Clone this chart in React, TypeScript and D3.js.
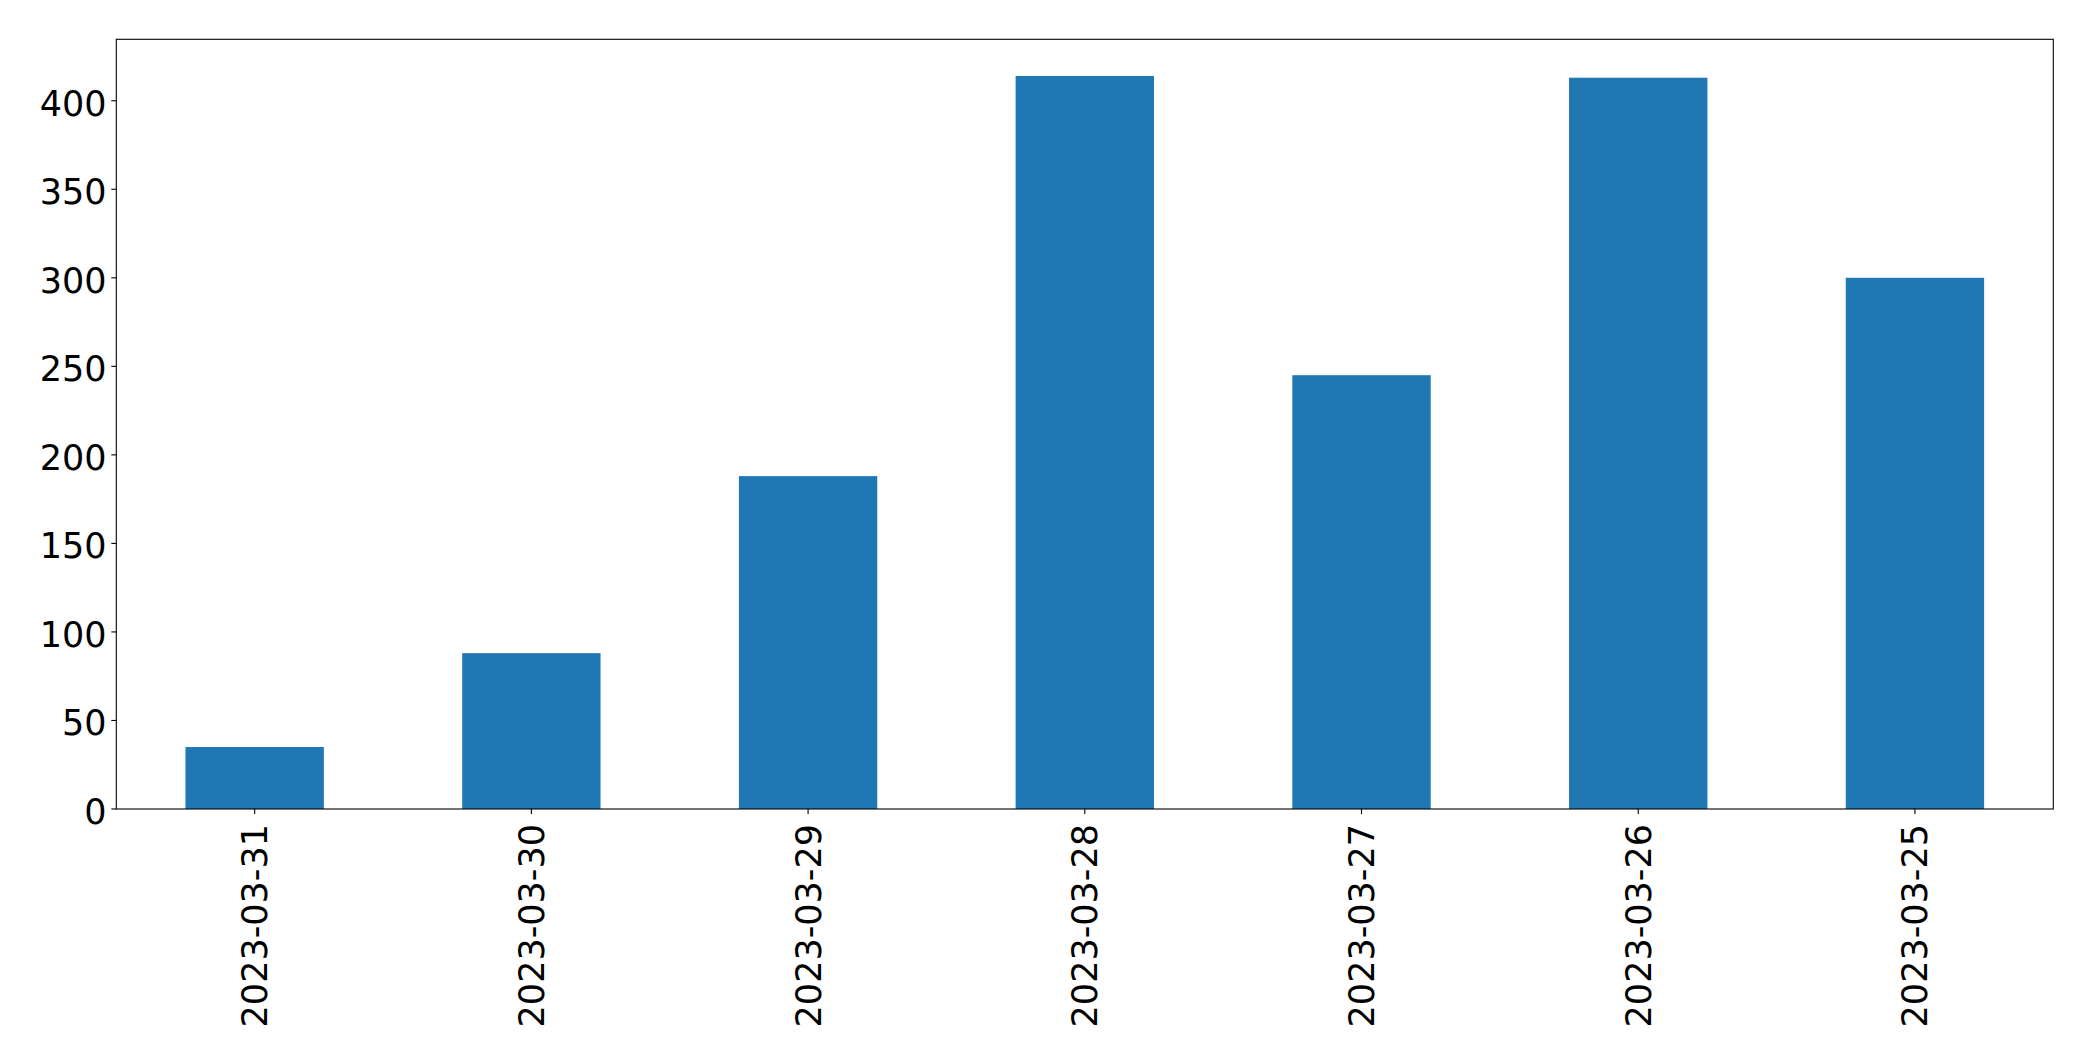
import React from "react";
import * as d3 from "d3";

const categories = ["2023-03-31", "2023-03-30", "2023-03-29", "2023-03-28", "2023-03-27", "2023-03-26", "2023-03-25"];
const values = [35, 88, 188, 414, 245, 413, 300];
const yTicks = [0, 50, 100, 150, 200, 250, 300, 350, 400];

const W = 2093;
const H = 1061;
const left = 116.3;
const right = 2053.3;
const top = 39.3;
const bottom = 809;
const fs = 35;
const font = "DejaVu Sans";

export default function App() {
  const x = d3.scaleBand<string>().domain(categories).range([left, right]).paddingInner(0.5).paddingOuter(0.25);
  const yMax = (d3.max(values) as number) * 1.05;
  const y = d3.scaleLinear().domain([0, yMax]).range([bottom, top]);
  const color = "#1f77b4";

  return (
    <svg width={W} height={H} style={{ position: "absolute", left: 0, top: 0, background: "#fff" }}>
      <rect x={0} y={0} width={W} height={H} fill="#fff" />
      {categories.map((c, i) => (
        <rect
          key={c}
          x={x(c) as number}
          y={y(values[i])}
          width={x.bandwidth()}
          height={bottom - y(values[i])}
          fill={color}
        />
      ))}
      <rect x={left} y={top} width={right - left} height={bottom - top} fill="none" stroke="#000" strokeWidth={1.1} />
      {yTicks.map((t) => (
        <g key={t}>
          <line x1={left - 5} x2={left} y1={y(t)} y2={y(t)} stroke="#000" strokeWidth={1.1} />
          <text x={106.5} y={y(t) + 15} textAnchor="end" fontFamily={font} fontSize={fs} fill="#000">
            {t}
          </text>
        </g>
      ))}
      {categories.map((c) => {
        const cx = (x(c) as number) + x.bandwidth() / 2;
        return (
          <g key={c}>
            <line x1={cx} x2={cx} y1={bottom} y2={bottom + 5} stroke="#000" strokeWidth={1.1} />
            <text
              transform={`translate(${cx + 12.5},${824}) rotate(-90)`}
              textAnchor="end"
              fontFamily={font}
              fontSize={fs}
              fill="#000"
            >
              {c}
            </text>
          </g>
        );
      })}
    </svg>
  );
}
